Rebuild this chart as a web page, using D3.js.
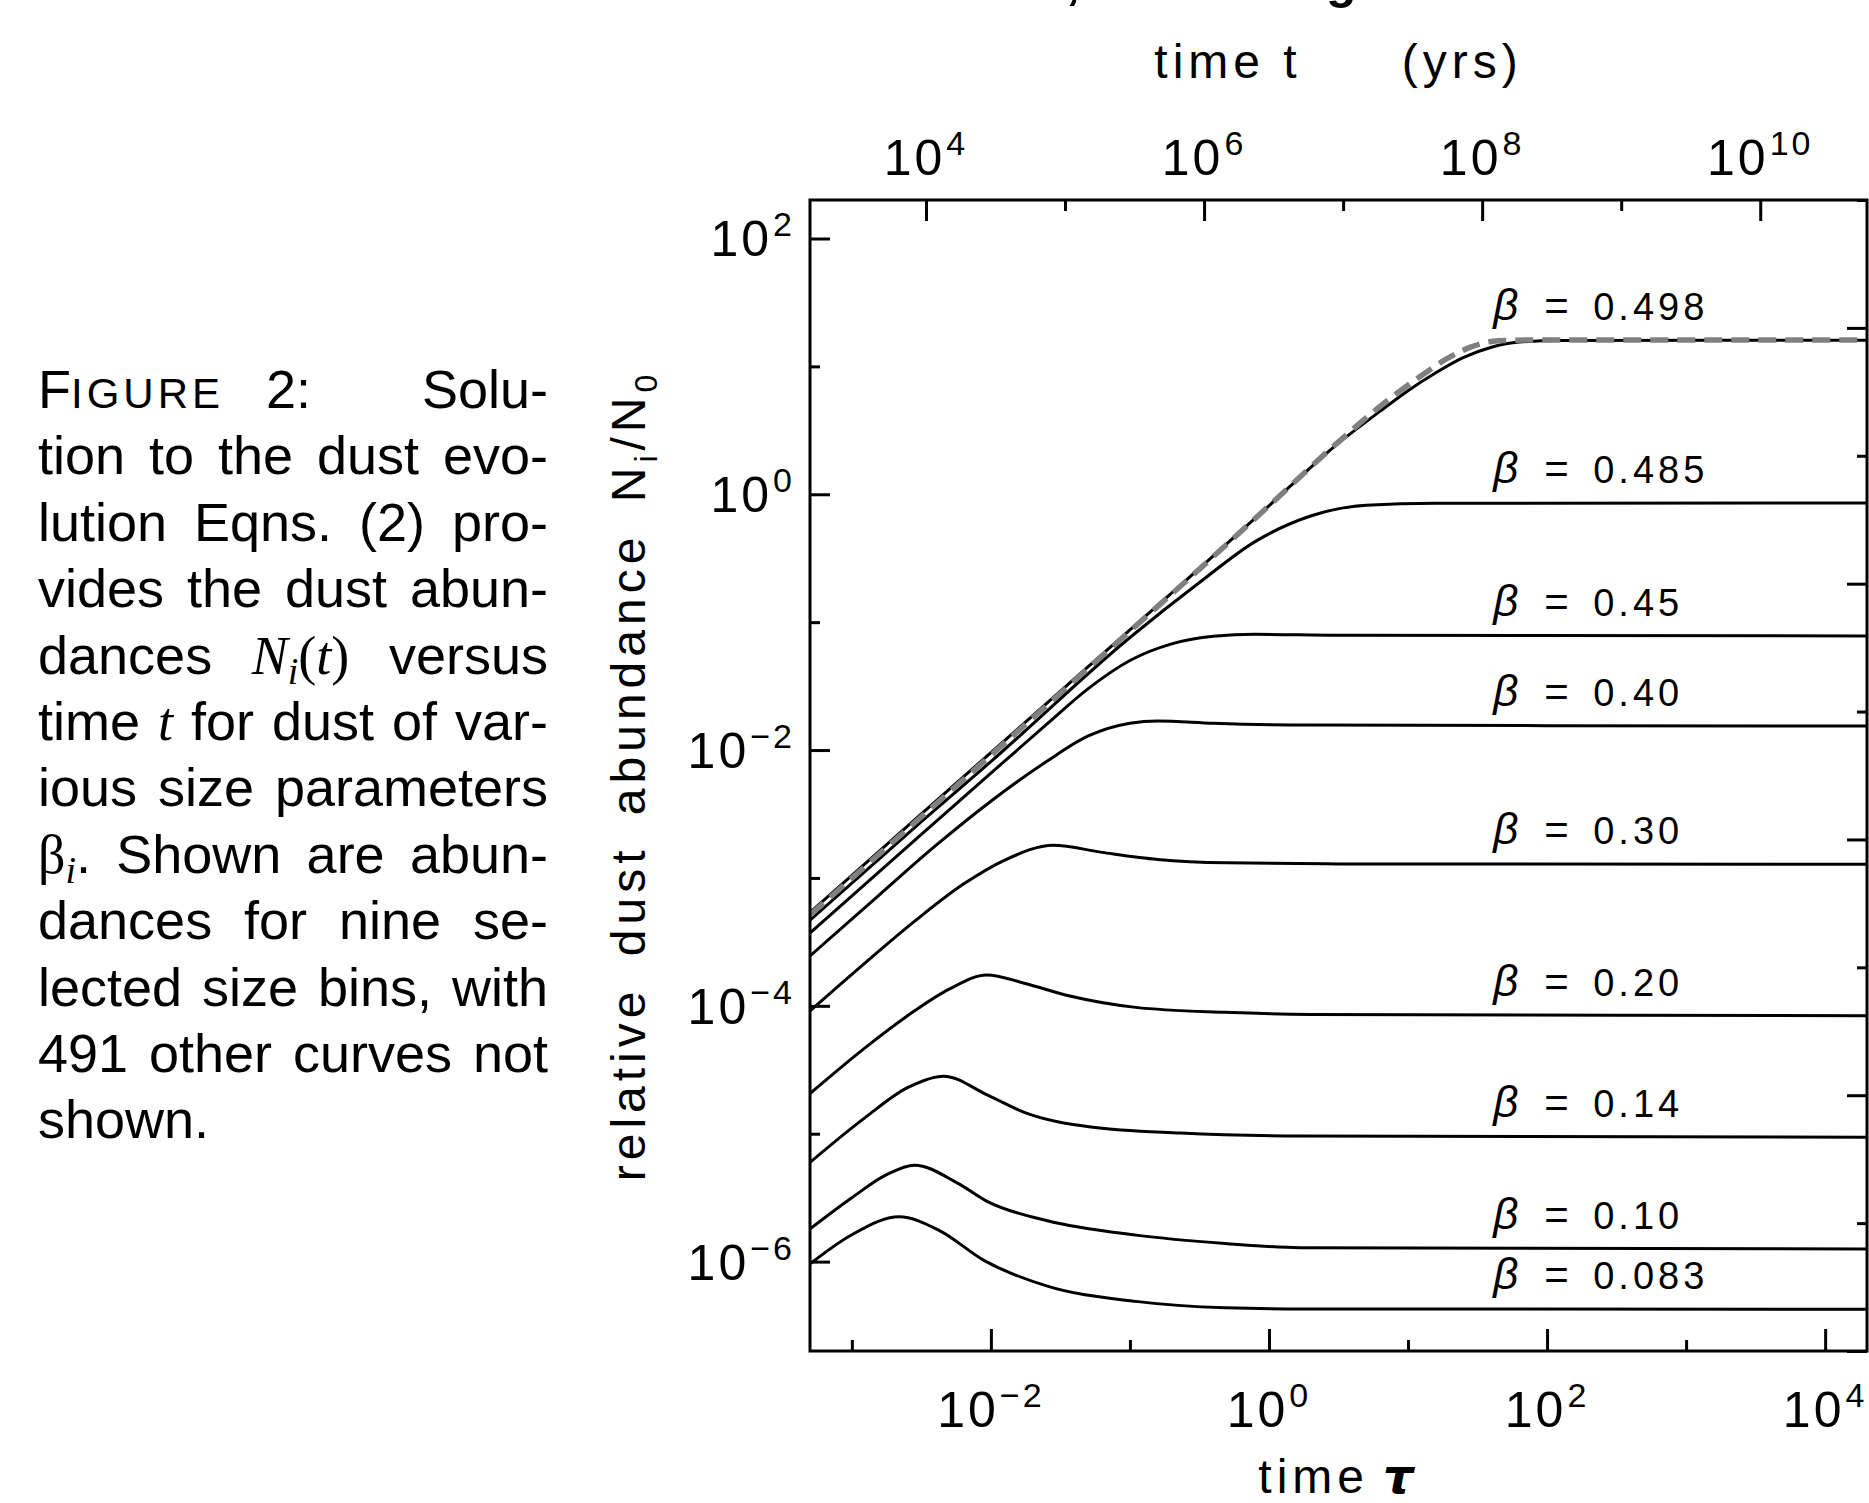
<!DOCTYPE html>
<html lang="en">
<head>
<meta charset="utf-8">
<title>Dust abundance versus time</title>
<script src="https://d3js.org/d3.v7.min.js"></script>
<style>
  body { margin: 0; background: #fff; }
  svg text { font-family: "Liberation Sans", Arial, sans-serif; fill: #000; }
</style>
</head>
<body>
<script>
// ---- values: each point is [log10 tau, log10 N/N0] ----
var betas = ["0.498", "0.485", "0.45", "0.40", "0.30", "0.20", "0.14", "0.10", "0.083"];

var b0498 = [[-3.301,-3.27],[-2.5,-2.50],[-2,-2.02],[-1,-1.06],[-0.5,-0.58],[0,-0.09],[0.5,0.40],[0.8,0.65],[1.0,0.81],[1.2,0.95],[1.4,1.07],[1.6,1.15],[1.8,1.19],[2.1,1.203],[4.294,1.205]];
var b0485 = [[-3.301,-3.33],[-2.5,-2.56],[-2,-2.09],[-1,-1.12],[-0.5,-0.69],[-0.1,-0.37],[0.3,-0.17],[0.7,-0.085],[1.2,-0.07],[4.294,-0.068]];
var b045  = [[-3.301,-3.43],[-2.5,-2.66],[-2,-2.18],[-1.6,-1.80],[-1.3,-1.52],[-1.0,-1.30],[-0.7,-1.17],[-0.4,-1.11],[-0.1,-1.095],[0.5,-1.103],[4.294,-1.108]];
var b040  = [[-3.301,-3.61],[-2.8,-3.13],[-2.4,-2.75],[-2.0,-2.40],[-1.6,-2.09],[-1.3,-1.89],[-1.0,-1.79],[-0.8,-1.772],[-0.4,-1.79],[0.3,-1.805],[4.294,-1.812]];
var b030  = [[-3.301,-4.04],[-2.9,-3.66],[-2.55,-3.34],[-2.2,-3.05],[-1.9,-2.86],[-1.55,-2.745],[-1.2,-2.80],[-0.8,-2.855],[-0.3,-2.882],[0.5,-2.89],[4.294,-2.893]];
var b020  = [[-3.301,-4.686],[-2.885,-4.311],[-2.564,-4.051],[-2.3,-3.87],[-2.03,-3.758],[-1.76,-3.823],[-1.44,-3.921],[-0.958,-4.012],[-0.316,-4.051],[0.3,-4.067],[4.294,-4.077]];
var b014  = [[-3.301,-5.224],[-2.9,-4.87],[-2.6,-4.64],[-2.34,-4.55],[-2.02,-4.70],[-1.76,-4.833],[-1.28,-4.947],[-0.637,-4.995],[0.223,-5.018],[4.294,-5.028]];
var b010  = [[-3.301,-5.744],[-3.0,-5.50],[-2.75,-5.32],[-2.55,-5.246],[-2.24,-5.386],[-2.02,-5.533],[-1.6,-5.679],[-0.958,-5.793],[-0.316,-5.858],[0.223,-5.891],[4.294,-5.901]];
var b0083 = [[-3.301,-6.018],[-3.0,-5.79],[-2.66,-5.65],[-2.37,-5.757],[-2.05,-5.99],[-1.6,-6.19],[-0.958,-6.311],[-0.315,-6.361],[0.223,-6.37],[4.294,-6.373]];
var curves = [b0498, b0485, b045, b040, b030, b020, b014, b010, b0083];

// grey dashed approximation laid over the beta = 0.498 curve
var approx = [[-3.301,-3.29],[-2,-2.04],[-1,-1.07],[-0.5,-0.585],[0,-0.09],[0.5,0.41],[0.86,0.74],[1.10,0.93],[1.28,1.06],[1.45,1.15],[1.65,1.20],[1.9,1.206],[4.294,1.206]];

// axis ticks
var tauMajor = [1e-2, 1, 1e2, 1e4];
var tauMinor = [1e-3, 1e-1, 1e1, 1e3];
var yrsMajor = [1e4, 1e6, 1e8, 1e10];
var yrsMinor = [1e5, 1e7, 1e9];
var nMajor = [1e2, 1, 1e-2, 1e-4, 1e-6];
var nMinor = [1e1, 1e-1, 1e-3, 1e-5];
var rightMajor = [1e2, 1, 1e-2, 1e-4, 1e-6];
var rightMinor = [1e3, 1e1, 1e-1, 1e-3, 1e-5];
var yrsPerTau = 2.93e6;
var labelTau = 41;

// caption, one entry per line, words made of [text, style] runs
var caption = [
  [[["F",""],["IGURE","sc"],["\u2002 2:",""]], [["Solu-",""]]],
  [[["tion",""]],[["to",""]],[["the",""]],[["dust",""]],[["evo-",""]]],
  [[["lution",""]],[["Eqns.",""]],[["(2)",""]],[["pro-",""]]],
  [[["vides",""]],[["the",""]],[["dust",""]],[["abun-",""]]],
  [[["dances",""]],[["N","mi"],["i","sub"],["(","ms"],["t","mi"],[")","ms"]],[["versus",""]]],
  [[["time",""]],[["t","mi"]],[["for",""]],[["dust",""]],[["of",""]],[["var-",""]]],
  [[["ious",""]],[["size",""]],[["parameters",""]]],
  [[["\u03b2","ms"],["i","sub"],[".",""]],[["Shown",""]],[["are",""]],[["abun-",""]]],
  [[["dances",""]],[["for",""]],[["nine",""]],[["se-",""]]],
  [[["lected",""]],[["size",""]],[["bins,",""]],[["with",""]]],
  [[["491",""]],[["other",""]],[["curves",""]],[["not",""]]],
  [[["shown.",""]]]
];

var w = 1869, h = 1503;
var pLeft = 810, pRight = 1867, pTop = 200, pBottom = 1351;

var xScale = d3.scaleLog().domain([5e-4, 2e4]).range([pLeft, pRight]);
var tScale = d3.scaleLog().domain([5e-4 * yrsPerTau, 2e4 * yrsPerTau]).range([pLeft, pRight]);
var yScale = d3.scaleLog().domain([2e-7, 2e2]).range([pBottom, pTop]);
var rScale = d3.scaleLog().domain([1e-6, 1e3]).range([pBottom, pTop]);

var svg = d3.select("body").append("svg")
  .attr("width", w)
  .attr("height", h);

svg.append("defs").append("clipPath").attr("id", "plotclip")
  .append("rect")
  .attr("x", pLeft).attr("y", pTop)
  .attr("width", pRight - pLeft).attr("height", pBottom - pTop);

// ---- curves ----
var line = d3.line()
  .x(d => xScale(Math.pow(10, d[0])))
  .y(d => yScale(Math.pow(10, d[1])))
  .curve(d3.curveMonotoneX);

var plot = svg.append("g").attr("clip-path", "url(#plotclip)");
plot.selectAll("path.curve")
  .data(curves)
  .enter()
  .append("path")
  .attr("class", "curve")
  .attr("d", line)
  .attr("fill", "none")
  .attr("stroke", "#000")
  .attr("stroke-width", 3);

plot.append("path")
  .datum(approx)
  .attr("d", line)
  .attr("fill", "none")
  .attr("stroke", "#808080")
  .attr("stroke-width", 5.5)
  .attr("stroke-dasharray", "18,9");

// ---- frame and ticks ----
function ticks(axis, values, size, transform) {
  var g = svg.append("g")
    .attr("transform", transform)
    .call(axis.tickValues(values).tickSize(-size).tickSizeOuter(0).tickFormat(""));
  g.select(".domain").remove();
  g.selectAll(".tick line").attr("stroke", "#000").attr("stroke-width", 3);
}
ticks(d3.axisBottom(xScale), tauMajor, 22, "translate(0," + pBottom + ")");
ticks(d3.axisBottom(xScale), tauMinor, 11, "translate(0," + pBottom + ")");
ticks(d3.axisTop(tScale), yrsMajor, 21, "translate(0," + pTop + ")");
ticks(d3.axisTop(tScale), yrsMinor, 11, "translate(0," + pTop + ")");
ticks(d3.axisLeft(yScale), nMajor, 20, "translate(" + pLeft + ",0)");
ticks(d3.axisLeft(yScale), nMinor, 10, "translate(" + pLeft + ",0)");
ticks(d3.axisRight(rScale), rightMajor, 20, "translate(" + pRight + ",0)");
ticks(d3.axisRight(rScale), rightMinor, 10, "translate(" + pRight + ",0)");

svg.append("rect")
  .attr("x", pLeft).attr("y", pTop)
  .attr("width", pRight - pLeft).attr("height", pBottom - pTop)
  .attr("fill", "none")
  .attr("stroke", "#000")
  .attr("stroke-width", 3);

// ---- tick labels as 10 with a superscript exponent ----
function power(sel, v) {
  var e = Math.round(Math.log10(v));
  sel.append("tspan").text("10");
  sel.append("tspan")
    .attr("font-size", 34)
    .attr("dy", -20)
    .attr("dx", 1)
    .text(e < 0 ? "\u2212" + (-e) : String(e));
}
tauMajor.forEach(function (v) {
  svg.append("text")
    .attr("x", xScale(v)).attr("y", 1427)
    .attr("text-anchor", "middle")
    .attr("font-size", 50)
    .attr("letter-spacing", 3)
    .call(power, v);
});
yrsMajor.forEach(function (v) {
  svg.append("text")
    .attr("x", tScale(v)).attr("y", 175)
    .attr("text-anchor", "middle")
    .attr("font-size", 50)
    .attr("letter-spacing", 3)
    .call(power, v);
});
nMajor.forEach(function (v) {
  svg.append("text")
    .attr("x", 795).attr("y", yScale(v) + 18)
    .attr("text-anchor", "end")
    .attr("font-size", 50)
    .attr("letter-spacing", 3)
    .call(power, v);
});

// ---- axis titles ----
var bt = svg.append("text")
  .attr("x", (pLeft + pRight) / 2).attr("y", 1493)
  .attr("text-anchor", "middle")
  .attr("font-size", 48)
  .attr("letter-spacing", 5);
bt.append("tspan").text("time");
bt.append("tspan").attr("dx", 14)
  .attr("font-family", "DejaVu Sans")
  .attr("font-weight", "bold")
  .attr("font-style", "italic")
  .text("\u03c4");

var tt = svg.append("text")
  .attr("x", (pLeft + pRight) / 2).attr("y", 78)
  .attr("text-anchor", "middle")
  .attr("font-size", 48)
  .attr("letter-spacing", 5);
tt.append("tspan").text("time t");
tt.append("tspan").attr("dx", 100).text("(yrs)");

var yt = svg.append("text")
  .attr("transform", "translate(645," + (pTop + pBottom) / 2 + ") rotate(-90)")
  .attr("text-anchor", "middle")
  .attr("font-size", 48)
  .attr("letter-spacing", 5)
  .attr("word-spacing", 12);
yt.append("tspan").text("relative dust abundance N");
yt.append("tspan").attr("font-size", 32).attr("dy", 12).text("i");
yt.append("tspan").attr("dy", -12).text("/N");
yt.append("tspan").attr("font-size", 32).attr("dy", 12).text("0");

// title above, mostly outside the picture
var title = svg.append("text")
  .attr("y", -2)
  .attr("font-size", 50)
  .attr("font-weight", "bold");
title.append("tspan").attr("x", 1066).text(",");
title.append("tspan").attr("x", 1326).text("g");

// ---- beta labels above each plateau ----
betas.forEach(function (b, i) {
  var c = curves[i];
  var y = yScale(Math.pow(10, c[c.length - 1][1])) - 20;
  var x = xScale(labelTau);
  svg.append("text")
    .attr("x", x).attr("y", y)
    .attr("font-family", "Liberation Serif")
    .attr("font-style", "italic")
    .attr("font-size", 44)
    .text("\u03b2");
  svg.append("text")
    .attr("x", x + 51).attr("y", y)
    .attr("font-size", 42)
    .text("=");
  svg.append("text")
    .attr("x", x + 100).attr("y", y)
    .attr("font-size", 38)
    .attr("letter-spacing", 4)
    .text(b);
});

// ---- justified caption ----
var capLeft = 38, capRight = 548, capTop = 408, capStep = 66.4, capSize = 54;
var cap = svg.append("g");
caption.forEach(function (words, i) {
  var y = capTop + i * capStep;
  var nodes = words.map(function (runs) {
    var t = cap.append("text").attr("y", y).attr("font-size", capSize);
    var shift = 0;
    runs.forEach(function (r) {
      var s = t.append("tspan").text(r[0]);
      var want = 0;
      if (r[1] === "sc") {
        s.attr("font-size", 42).attr("letter-spacing", 4);
      } else if (r[1] === "mi") {
        s.attr("font-family", "Liberation Serif").attr("font-style", "italic");
      } else if (r[1] === "ms") {
        s.attr("font-family", "Liberation Serif");
      } else if (r[1] === "sub") {
        s.attr("font-family", "Liberation Serif").attr("font-style", "italic").attr("font-size", 38);
        want = 10;
      }
      if (want !== shift) { s.attr("dy", want - shift); shift = want; }
    });
    return t;
  });
  var widths = nodes.map(n => n.node().getComputedTextLength());
  var total = d3.sum(widths);
  var last = i === caption.length - 1;
  var gap = (words.length > 1 && !last) ? (capRight - capLeft - total) / (words.length - 1) : 15;
  var x = capLeft;
  nodes.forEach(function (n, j) {
    n.attr("x", x);
    x += widths[j] + gap;
  });
});
</script>
</body>
</html>
